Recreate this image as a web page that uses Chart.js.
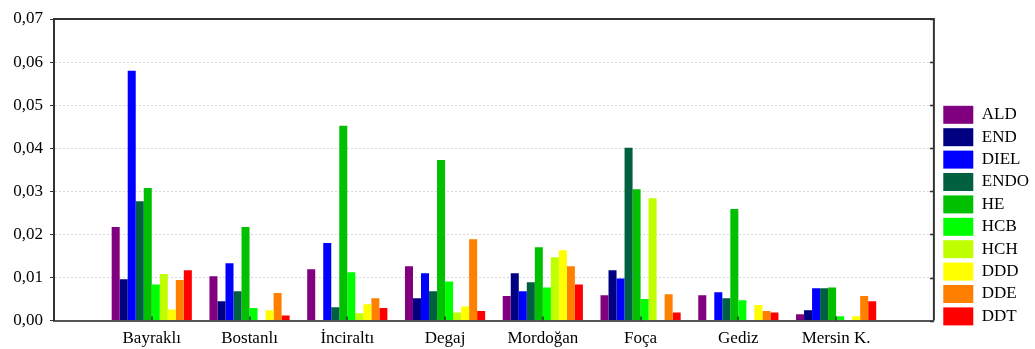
<!DOCTYPE html>
<html>
<head>
<meta charset="utf-8">
<script src="https://cdn.jsdelivr.net/npm/chart.js@4"></script>
<style>
  html, body { margin: 0; padding: 0; background: #fff; }
  #wrap { width: 1035px; height: 349px; }
</style>
</head>
<body>
<div id="wrap"><canvas id="chart" width="1035" height="349"></canvas></div>
<script>
// categories (stations)
const categories = ['Bayraklı', 'Bostanlı', 'İnciraltı', 'Degaj', 'Mordoğan', 'Foça', 'Gediz', 'Mersin K.'];

// series values, one array per compound, in category order
const ALD  = [0.0217, 0.0103, 0.0119, 0.0126, 0.0057, 0.0059, 0.0059, 0.0015];
const END  = [0.0096, 0.0045, null,   0.0052, 0.0110, 0.0117, null,   0.0024];
const DIEL = [0.0580, 0.0133, 0.0180, 0.0110, 0.0068, 0.0098, 0.0066, 0.0075];
const ENDO = [0.0277, 0.0068, 0.0031, 0.0068, 0.0089, 0.0401, 0.0052, 0.0075];
const HE   = [0.0308, 0.0217, 0.0452, 0.0373, 0.0170, 0.0305, 0.0259, 0.0077];
const HCB  = [0.0084, 0.0029, 0.0112, 0.0091, 0.0077, 0.0050, 0.0047, 0.0010];
const HCH  = [0.0108, null,   0.0017, 0.0019, 0.0147, 0.0284, null,   null];
const DDD  = [0.0026, 0.0024, 0.0038, 0.0033, 0.0163, null,   0.0036, 0.0010];
const DDE  = [0.0094, 0.0064, 0.0052, 0.0189, 0.0126, 0.0061, 0.0022, 0.0057];
const DDT  = [0.0117, 0.0012, 0.0029, 0.0022, 0.0084, 0.0019, 0.0019, 0.0045];

// y axis ticks
const yTicks = [0, 0.01, 0.02, 0.03, 0.04, 0.05, 0.06, 0.07];

const series = [
  { name: 'ALD',  values: ALD,  color: '#800080' },
  { name: 'END',  values: END,  color: '#000080' },
  { name: 'DIEL', values: DIEL, color: '#0000ff' },
  { name: 'ENDO', values: ENDO, color: '#006040' },
  { name: 'HE',   values: HE,   color: '#00c000' },
  { name: 'HCB',  values: HCB,  color: '#00ff00' },
  { name: 'HCH',  values: HCH,  color: '#c0ff00' },
  { name: 'DDD',  values: DDD,  color: '#ffff00' },
  { name: 'DDE',  values: DDE,  color: '#ff8000' },
  { name: 'DDT',  values: DDT,  color: '#ff0000' },
];

// an empty slot on each side, like the original frame
const labels = ['', ...categories, ''];

Chart.defaults.font.family = '"Liberation Serif", "Times New Roman", serif';
Chart.defaults.font.size = 17;
Chart.defaults.color = '#000';

// top/right frame plus the inside tick marks
const framePlugin = {
  id: 'frame',
  afterDraw(chart) {
    const { ctx, chartArea: a, scales: { x, y } } = chart;
    ctx.save();
    ctx.strokeStyle = '#333';
    ctx.lineWidth = 2;
    ctx.beginPath();
    ctx.moveTo(a.left, a.top);
    ctx.lineTo(a.right, a.top);
    ctx.lineTo(a.right, a.bottom);
    ctx.stroke();
    ctx.lineWidth = 1.5;
    ctx.beginPath();
    yTicks.forEach(v => {
      const py = Math.round(y.getPixelForValue(v)) + 0.5;
      ctx.moveTo(a.right - 4, py);
      ctx.lineTo(a.right, py);
    });
    categories.forEach((c, i) => {
      const px = Math.round(x.getPixelForValue(i + 1));
      ctx.moveTo(px, a.bottom);
      ctx.lineTo(px, a.bottom - 4);
    });
    ctx.stroke();
    ctx.restore();
  }
};

new Chart(document.getElementById('chart'), {
  type: 'bar',
  data: {
    labels: labels,
    datasets: series.map(s => ({
      label: s.name,
      data: [null, ...s.values, null],
      backgroundColor: s.color,
      borderWidth: 0,
      barPercentage: 1.0,
      categoryPercentage: 0.82,
    })),
  },
  options: {
    responsive: false,
    animation: false,
    devicePixelRatio: 1,
    layout: { padding: { top: 19, right: -4, bottom: -8, left: 0 } },
    plugins: {
      tooltip: { enabled: false },
      legend: {
        position: 'right',
        align: 'start',
        title: { display: true, text: '', padding: { top: 62, bottom: 0 } },
        labels: { boxWidth: 30, boxHeight: 18, padding: 4.4, color: '#000' },
      },
    },
    scales: {
      x: {
        offset: false,
        grid: { display: false, drawTicks: false },
        border: { color: '#555', width: 2 },
        ticks: { padding: 8, maxRotation: 0, autoSkip: false },
      },
      y: {
        min: 0,
        max: 0.07,
        afterFit: s => { s.width = 54; },
        afterBuildTicks: s => { s.ticks = yTicks.map(v => ({ value: v })); },
        ticks: {
          padding: 7,
          callback: v => v.toFixed(2).replace('.', ','),
        },
        grid: { color: '#d8d8d8', tickColor: '#333', tickLength: 4, lineWidth: 1 },
        border: { color: '#333', width: 2, dash: [2, 2] },
      },
      // spacer between the frame and the legend
      yR: {
        position: 'right',
        ticks: { display: false },
        grid: { drawOnChartArea: false, drawTicks: false },
        border: { display: false },
        afterFit: s => { s.width = 5; },
      },
    },
  },
  plugins: [framePlugin],
});
</script>
</body>
</html>
